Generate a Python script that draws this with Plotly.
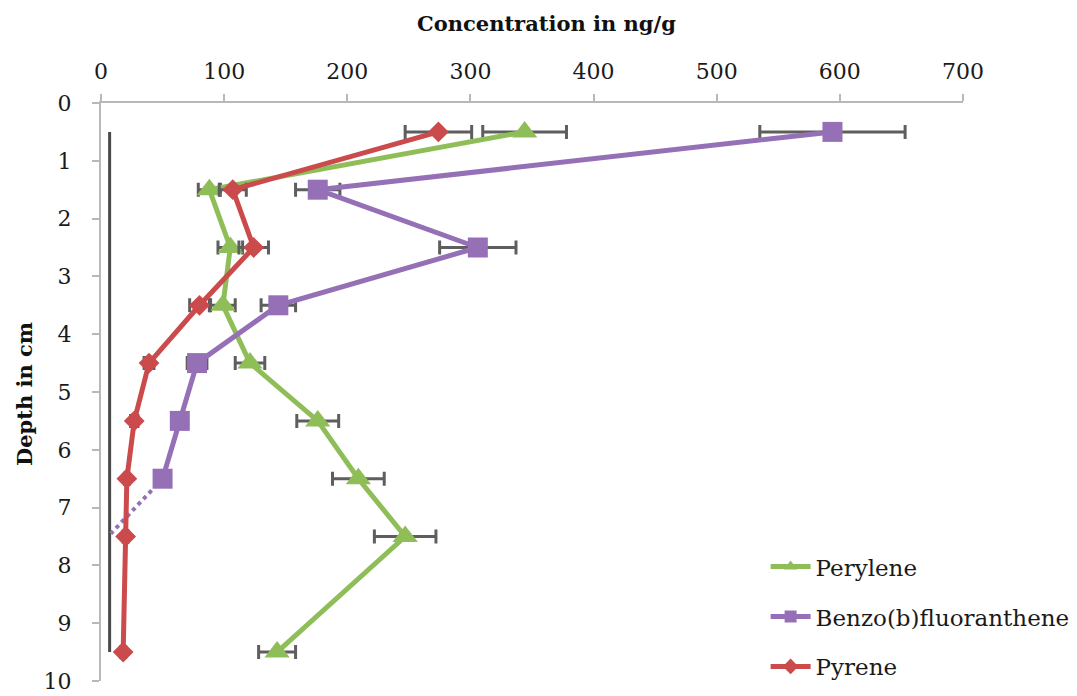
import plotly.graph_objects as go

# Sampling depths (cm)
depth = [0.5, 1.5, 2.5, 3.5, 4.5, 5.5, 6.5, 7.5, 9.5]
depth_benzo = [0.5, 1.5, 2.5, 3.5, 4.5, 5.5, 6.5]

# Concentrations in ng/g
perylene = [344, 88, 105, 99, 121, 176, 209, 247, 143]
perylene_err = [34, 9, 10, 10, 12, 17, 21, 25, 15]

benzo = [594, 176, 306, 144, 78, 64, 50]
benzo_err = [59, 18, 31, 14, 8, 6, 5]

pyrene = [274, 107, 124, 80, 39, 27, 21, 20, 18]
pyrene_err = [27, 11, 12, 8, 4, 3, 2, 2, 2]

# Dotted continuation of the benzo(b)fluoranthene profile
benzo_tail_x = [50, 8]
benzo_tail_y = [6.5, 7.45]

# Dark vertical reference bar
ref_x = [7, 7]
ref_y = [0.5, 9.5]

GREEN = "#8FBE58"
PURPLE = "#9670B6"
RED = "#CB4A4B"
ERR = "#5E5E5E"
FONT = "DejaVu Serif"

def err(values):
    return dict(type="data", array=values, visible=True, color=ERR,
                thickness=3, width=7)

fig = go.Figure()

fig.add_trace(go.Scatter(
    x=ref_x, y=ref_y, mode="lines", showlegend=False, hoverinfo="skip",
    line=dict(color="#4A4A4A", width=3)))

fig.add_trace(go.Scatter(
    x=perylene, y=depth, name="Perylene", mode="lines+markers",
    line=dict(color=GREEN, width=5),
    marker=dict(symbol="triangle-up", size=22, color=GREEN),
    error_x=err(perylene_err), legendgroup="a"))

fig.add_trace(go.Scatter(
    x=benzo_tail_x, y=benzo_tail_y, mode="lines", showlegend=False,
    line=dict(color=PURPLE, width=4, dash="dot"), hoverinfo="skip"))

fig.add_trace(go.Scatter(
    x=benzo, y=depth_benzo, name="Benzo(b)fluoranthene", mode="lines+markers",
    line=dict(color=PURPLE, width=5),
    marker=dict(symbol="square", size=20, color=PURPLE),
    error_x=err(benzo_err), legendgroup="b"))

fig.add_trace(go.Scatter(
    x=pyrene, y=depth, name="Pyrene", mode="lines+markers",
    line=dict(color=RED, width=5),
    marker=dict(symbol="diamond", size=16, color=RED),
    error_x=err(pyrene_err), legendgroup="c"))

fig.update_layout(
    width=1077, height=696,
    margin=dict(l=101, r=114, t=103, b=15, autoexpand=False),
    paper_bgcolor="white", plot_bgcolor="white",
    font=dict(family=FONT, size=22, color="#1a1a1a"),
    legend=dict(x=0.771, y=0.235, xanchor="left", yanchor="top",
                font=dict(family=FONT, size=23, color="#1a1a1a"),
                tracegroupgap=17, itemsizing="constant", itemwidth=40,
                bgcolor="rgba(0,0,0,0)"),
    xaxis=dict(side="top", range=[0, 700], tickvals=[0, 100, 200, 300, 400, 500, 600, 700],
               showgrid=False, zeroline=False, showline=True, linecolor="#B8B8B8",
               linewidth=2, ticks="outside", ticklen=7, tickwidth=2, tickcolor="#B8B8B8",
               ticklabelstandoff=6, mirror=False),
    yaxis=dict(range=[10, 0], tickvals=list(range(0, 11)),
               showgrid=False, zeroline=False, showline=True, linecolor="#B8B8B8",
               linewidth=2, ticks="outside", ticklen=7, tickwidth=2, tickcolor="#B8B8B8",
               ticklabelstandoff=16),
    annotations=[
        dict(text="<b>Concentration in ng/g</b>", xref="paper", yref="paper",
             x=0.517, y=1.137, showarrow=False, xanchor="center", yanchor="middle",
             font=dict(family=FONT, size=21, color="#111")),
        dict(text="<b>Depth in cm</b>", xref="paper", yref="paper",
             x=-0.089, y=0.497, showarrow=False, textangle=-90,
             xanchor="center", yanchor="middle",
             font=dict(family=FONT, size=21, color="#111")),
    ],
)

fig.write_html("out.html")
